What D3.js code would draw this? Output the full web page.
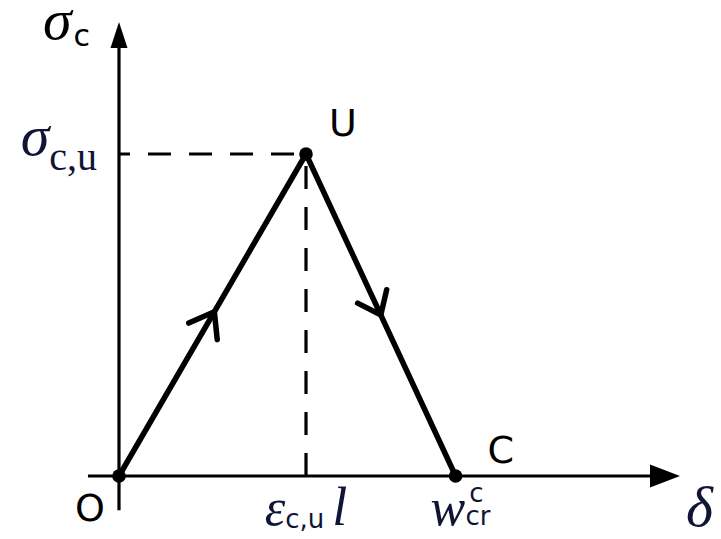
<!DOCTYPE html>
<html>
<head>
<meta charset="utf-8">
<script src="https://cdn.jsdelivr.net/npm/d3@7"></script>
<style>
  html, body { margin: 0; padding: 0; background: #fff; }
  svg { display: block; }
</style>
</head>
<body>
<svg id="chart" width="721" height="539"></svg>
<script>
// Triangular cohesive law: stress rises linearly from O to the peak U,
// then softens linearly to zero at the critical opening C.
const pointNames = ["O", "U", "C"];
const openingValues = [0, 1, 1.8];   // δ, in units of ε_c,u·l
const stressValues = [0, 1, 0];      // σ_c, in units of σ_c,u

// Extent of the drawn axes, in the same units
const deltaAxisExtent = [-0.166, 3.0];
const sigmaAxisExtent = [-0.106, 1.41];

// Reference-level labels (peak stress / peak opening / critical opening)
const sigmaTickValue = 1;
const deltaTickValues = [1, 1.8];

const svg = d3.select("#chart");
const ink = "#000";
const mathInk = "#111437";
const serif = "'Liberation Serif', 'DejaVu Serif', serif";
const sans = "'DejaVu Sans', 'Open Sans', sans-serif";

const x = d3.scaleLinear().domain([0, 3]).range([119, 680]);
const y = d3.scaleLinear().domain([0, 1]).range([476, 154]);

const pts = openingValues.map((d, i) => ({ name: pointNames[i], d, s: stressValues[i] }));

// --- axes -------------------------------------------------------------
svg.append("line")
  .attr("x1", x(deltaAxisExtent[0])).attr("x2", x(deltaAxisExtent[1]) - 20)
  .attr("y1", y(0)).attr("y2", y(0))
  .attr("stroke", ink).attr("stroke-width", 3.2);
svg.append("path")
  .attr("d", `M${x(deltaAxisExtent[1])},${y(0)} L${x(deltaAxisExtent[1]) - 30},${y(0) - 11.5} L${x(deltaAxisExtent[1]) - 30},${y(0) + 11.5} Z`)
  .attr("fill", ink);

svg.append("line")
  .attr("x1", x(0)).attr("x2", x(0))
  .attr("y1", y(sigmaAxisExtent[0])).attr("y2", y(sigmaAxisExtent[1]) + 18)
  .attr("stroke", ink).attr("stroke-width", 3.2);
svg.append("path")
  .attr("d", `M${x(0)},${y(sigmaAxisExtent[1])} L${x(0) - 8.5},${y(sigmaAxisExtent[1]) + 26} L${x(0) + 8.5},${y(sigmaAxisExtent[1]) + 26} Z`)
  .attr("fill", ink);

// --- dashed guides to the peak ---------------------------------------
svg.append("line")
  .attr("x1", x(0)).attr("x2", x(openingValues[1]))
  .attr("y1", y(sigmaTickValue)).attr("y2", y(sigmaTickValue))
  .attr("stroke", ink).attr("stroke-width", 3.2)
  .attr("stroke-dasharray", "23,18").attr("stroke-dashoffset", 12);
svg.append("line")
  .attr("x1", x(deltaTickValues[0])).attr("x2", x(deltaTickValues[0]))
  .attr("y1", y(stressValues[1])).attr("y2", y(0))
  .attr("stroke", ink).attr("stroke-width", 3.2)
  .attr("stroke-dasharray", "23,18").attr("stroke-dashoffset", -12);

// --- the law itself --------------------------------------------------
const line = d3.line().x(p => x(p.d)).y(p => y(p.s));
svg.append("path")
  .datum(pts)
  .attr("d", line)
  .attr("fill", "none")
  .attr("stroke", ink).attr("stroke-width", 5.5)
  .attr("stroke-linejoin", "round");

// direction chevrons at the middle of each branch
function chevron(a, b, t, len, ang) {
  const x0 = x(a.d), y0 = y(a.s), x1 = x(b.d), y1 = y(b.s);
  const tx = x0 + (x1 - x0) * t, ty = y0 + (y1 - y0) * t;
  const back = Math.atan2(y0 - y1, x0 - x1);
  const arm = s => [tx + len * Math.cos(back + s * ang), ty + len * Math.sin(back + s * ang)];
  const p1 = arm(1), p2 = arm(-1);
  svg.append("path")
    .attr("d", `M${p1[0]},${p1[1]} L${tx},${ty} L${p2[0]},${p2[1]}`)
    .attr("fill", "none").attr("stroke", ink).attr("stroke-width", 5.5)
    .attr("stroke-linecap", "round").attr("stroke-linejoin", "miter");
}
chevron(pts[0], pts[1], 0.51, 28, 36 * Math.PI / 180);
chevron(pts[1], pts[2], 0.50, 26, 38 * Math.PI / 180);

// points
svg.selectAll("circle.pt")
  .data(pts)
  .join("circle")
  .attr("class", "pt")
  .attr("cx", p => x(p.d)).attr("cy", p => y(p.s))
  .attr("r", 6.8).attr("fill", ink);

// point names
const nameOffsets = { O: [-44, 45], U: [23, -18], C: [32, -13] };
svg.selectAll("text.pname")
  .data(pts)
  .join("text")
  .attr("class", "pname")
  .attr("x", p => x(p.d) + nameOffsets[p.name][0])
  .attr("y", p => y(p.s) + nameOffsets[p.name][1])
  .attr("font-family", sans).attr("font-size", 38)
  .attr("fill", ink)
  .text(p => p.name);

// --- axis titles -----------------------------------------------------
const sigTitle = svg.append("text")
  .attr("x", x(0) - 76).attr("y", y(sigmaAxisExtent[1]) + 17)
  .attr("fill", ink);
sigTitle.append("tspan").attr("font-family", serif).attr("font-style", "italic")
  .attr("font-size", 58).text("σ");
sigTitle.append("tspan").attr("font-family", sans).attr("font-size", 30)
  .attr("dx", 2).attr("dy", 7).text("c");

svg.append("text")
  .attr("x", 686).attr("y", y(0) + 50)
  .attr("font-family", serif).attr("font-style", "italic").attr("font-size", 58)
  .attr("fill", mathInk).text("δ");

// --- value labels ----------------------------------------------------
const sigLabel = svg.append("text")
  .attr("x", x(0) - 22).attr("y", y(sigmaTickValue) + 1)
  .attr("text-anchor", "end").attr("fill", mathInk);
sigLabel.append("tspan").attr("font-family", serif).attr("font-style", "italic")
  .attr("font-size", 58).text("σ");
sigLabel.append("tspan").attr("font-family", serif).attr("font-size", 40)
  .attr("dy", 15).text("c,u");

const epsLabel = svg.append("text")
  .attr("x", x(deltaTickValues[0])).attr("y", y(0) + 49)
  .attr("text-anchor", "middle").attr("fill", mathInk);
epsLabel.append("tspan").attr("font-family", serif).attr("font-style", "italic")
  .attr("font-size", 52).text("ε");
epsLabel.append("tspan").attr("font-family", sans).attr("font-size", 26)
  .attr("dy", 3).text("c,u");
epsLabel.append("tspan").attr("font-family", serif).attr("font-style", "italic")
  .attr("font-size", 54).attr("dx", 8).attr("dy", -3).text("l");

// critical opening w_cr^c: superscript stacked over the subscript
const wLabel = svg.append("text")
  .attr("x", x(deltaTickValues[1]) - 25).attr("y", y(0) + 49)
  .attr("fill", mathInk);
wLabel.append("tspan").attr("font-family", serif).attr("font-style", "italic")
  .attr("font-size", 52).text("w");
wLabel.append("tspan").attr("font-family", sans).attr("font-size", 26)
  .attr("dx", 4).attr("dy", -23).text("c");
wLabel.append("tspan").attr("font-family", sans).attr("font-size", 26)
  .attr("dx", -18).attr("dy", 23).text("cr");
</script>
</body>
</html>
